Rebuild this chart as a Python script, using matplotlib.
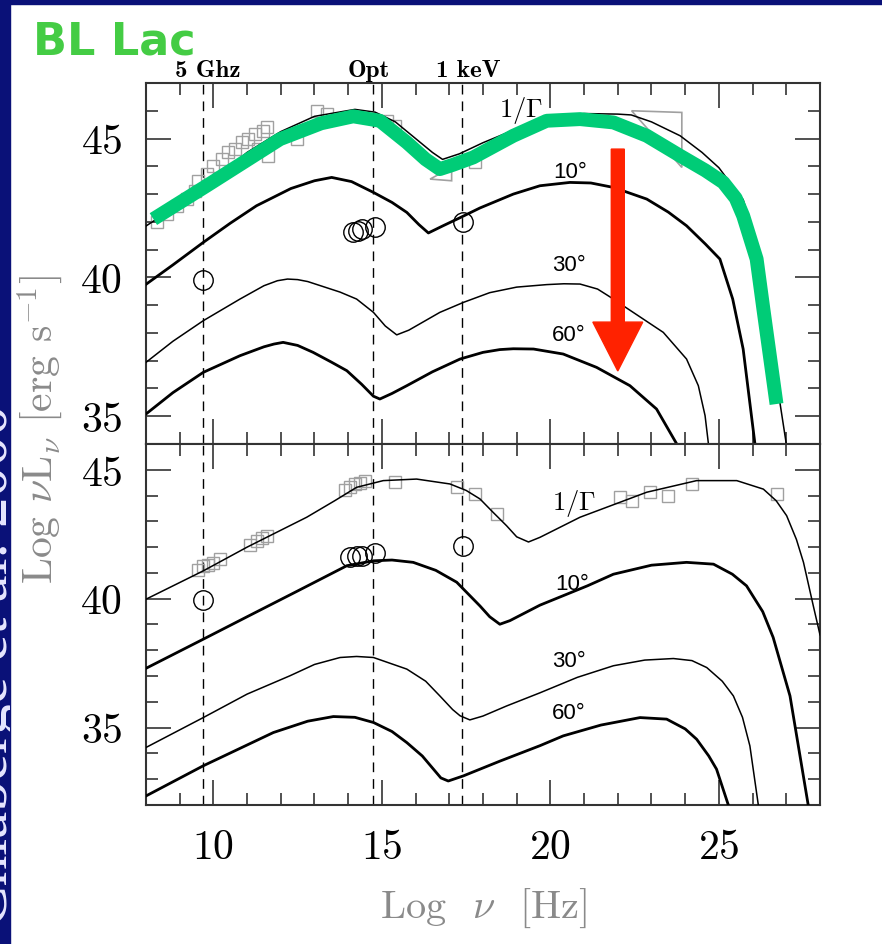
import matplotlib.pyplot as plt
from matplotlib.patches import Rectangle, Polygon
from matplotlib.ticker import MultipleLocator

plt.rcParams['font.family'] = 'serif'
plt.rcParams['font.serif'] = ['cmr10']
plt.rcParams['mathtext.fontset'] = 'cm'
plt.rcParams['axes.formatter.use_mathtext'] = True

# ---- upper panel: observed (high) state ----
up_gamma_x = [8.0, 9.7, 11.0, 12.0, 13.0, 14.2, 14.8, 15.4, 16.0, 16.5, 16.8, 17.3, 18.0, 19.0, 20.0, 21.0,
              22.0, 22.4, 23.0, 23.85, 24.5, 25.0, 25.4, 25.72, 26.0, 26.2, 26.31, 26.5, 26.81, 27.0]
up_gamma_y = [41.85, 43.2, 44.5, 45.25, 45.8, 46.05, 45.95, 45.6, 45.0, 44.5, 44.25, 44.45, 44.85, 45.35, 45.75, 45.9,
              45.88, 45.85, 45.6, 45.1, 44.5, 43.95, 43.3, 42.8, 41.7, 40.7, 39.3, 37.9, 35.5, 34.0]
up_10_x = [8.0, 8.8, 9.7, 10.5, 11.28, 12.3, 13.0, 13.51, 14.1, 14.75, 15.3, 15.74, 16.1, 16.38, 16.8, 17.32,
           17.91, 18.9, 19.69, 20.58, 21.2, 21.87, 22.86, 23.5, 24.04, 24.6, 25.03, 25.41, 25.72, 26.07]
up_10_y = [39.75, 40.45, 41.26, 41.95, 42.58, 43.2, 43.48, 43.6, 43.45, 43.06, 42.7, 42.34, 41.9, 41.6, 41.85, 42.15,
           42.5, 43.0, 43.3, 43.42, 43.4, 43.24, 42.82, 42.35, 41.86, 41.2, 40.66, 39.22, 37.42, 34.0]
up_30_x = [8.0, 8.8, 9.7, 10.79, 11.5, 11.9, 12.2, 12.5, 12.8, 13.76, 14.25, 14.75, 15.1, 15.44, 15.8, 16.72, 17.42,
           18.2, 19.0, 19.89, 20.4, 20.88, 21.4, 21.87, 22.16, 23.35, 24.04, 24.39, 24.59, 24.69]
up_30_y = [36.94, 37.7, 38.44, 39.22, 39.7, 39.88, 39.94, 39.92, 39.85, 39.47, 39.22, 38.74, 38.25, 37.93, 38.1, 38.74,
           39.1, 39.45, 39.65, 39.74, 39.77, 39.76, 39.58, 39.22, 38.98, 38.02, 37.06, 36.1, 35.02, 34.0]
up_60_x = [8.0, 8.8, 9.7, 10.79, 11.5, 11.8, 12.07, 12.5, 12.96, 13.5, 13.96, 14.4, 14.75, 14.94, 15.3, 15.74, 16.5,
           17.32, 18.0, 18.5, 18.9, 19.5, 20.38, 21.37, 22.36, 23.15, 23.75]
up_60_y = [35.08, 35.85, 36.58, 37.18, 37.5, 37.6, 37.66, 37.55, 37.3, 36.95, 36.64, 36.15, 35.72, 35.62, 35.82, 36.1,
           36.6, 37.06, 37.3, 37.4, 37.43, 37.42, 37.24, 36.76, 36.1, 35.26, 34.0]

up_sq_x = [8.32, 8.61, 8.91, 9.21, 9.45, 9.55, 9.80, 10.0, 10.25, 10.44, 10.64, 10.84, 11.04, 11.23, 11.48, 11.58,
           11.33, 11.63, 12.47, 13.07, 13.36, 15.14, 15.39, 17.76]
up_sq_y = [41.98, 42.28, 42.58, 42.82, 43.12, 43.48, 43.72, 44.02, 44.26, 44.5, 44.62, 44.86, 44.98, 45.16, 45.28, 45.40,
           44.62, 44.38, 44.98, 46.0, 45.88, 45.64, 45.46, 44.14]
up_circ_x = [9.7, 14.15, 14.30, 14.40, 14.80, 17.40]
up_circ_y = [39.9, 41.62, 41.68, 41.74, 41.80, 41.98]
bowtie_x = [22.41, 23.90, 23.90]
bowtie_y = [46.0, 45.94, 43.96]
xtri_x = [16.43, 17.07, 17.07]
xtri_y = [43.54, 43.96, 43.48]

# hand-drawn highlight on the upper panel
green_x = [8.22, 9.80, 11.98, 13.2, 14.15, 14.94, 15.74, 16.3, 16.72, 17.1, 17.71, 18.90, 19.89, 20.88, 21.87, 22.86,
           23.85, 24.6, 25.13, 25.5, 25.72, 26.12, 26.32, 26.71]
green_y = [42.10, 43.30, 44.98, 45.55, 45.80, 45.64, 44.86, 44.25, 43.90, 44.05, 44.32, 45.10, 45.64, 45.70, 45.58, 45.10,
           44.38, 43.85, 43.42, 42.85, 42.22, 40.66, 38.86, 35.44]

# ---- lower panel: fitted state ----
lo_gamma_x = [8.0, 9.7, 11.0, 12.77, 13.6, 14.25, 15.04, 16.03, 17.02, 17.5, 17.91, 18.3, 18.7, 19.0, 19.35, 19.69,
              20.88, 22.86, 24.34, 25.53, 26.32, 26.7, 27.01, 27.3, 27.51, 27.8, 28.0]
lo_gamma_y = [39.98, 41.08, 42.0, 43.16, 43.8, 44.32, 44.58, 44.64, 44.45, 44.2, 43.87, 43.35, 42.83, 42.4, 42.2, 42.38,
              43.16, 44.13, 44.58, 44.58, 44.25, 43.8, 43.22, 42.3, 41.41, 39.73, 38.6]
lo_10_x = [8.0, 9.7, 11.0, 12.5, 13.96, 14.75, 15.3, 15.93, 16.6, 17.22, 17.91, 18.2, 18.5, 18.8, 19.69, 21.1,
           21.87, 23.0, 24.04, 24.84, 25.4, 25.82, 26.3, 26.61, 27.11, 27.65]
lo_10_y = [37.3, 38.43, 39.3, 40.3, 41.28, 41.47, 41.5, 41.41, 41.1, 40.64, 39.72, 39.3, 39.01, 39.15, 39.75, 40.5,
           40.95, 41.3, 41.41, 41.34, 40.95, 40.5, 39.5, 38.5, 36.23, 32.0]
lo_30_x = [8.0, 9.7, 11.0, 12.27, 13.0, 13.76, 14.25, 14.75, 15.74, 16.3, 16.72, 17.1, 17.32, 17.61, 18.0, 18.7, 19.69,
           20.8, 21.87, 22.8, 23.65, 24.2, 24.64, 25.1, 25.43, 25.7, 25.92, 26.17]
lo_30_y = [34.23, 35.39, 36.3, 37.01, 37.45, 37.72, 37.76, 37.72, 37.27, 36.8, 36.23, 35.7, 35.46, 35.3, 35.45, 35.84,
           36.35, 36.95, 37.4, 37.62, 37.68, 37.6, 37.33, 36.8, 36.23, 35.4, 34.29, 32.0]
lo_60_x = [8.0, 9.7, 11.78, 12.8, 13.56, 14.2, 14.75, 15.3, 15.74, 16.2, 16.53, 16.75, 16.97, 17.42, 18.5, 19.69,
           20.38, 21.5, 22.66, 23.45, 24.0, 24.34, 24.7, 24.93, 25.28]
lo_60_y = [32.35, 33.52, 34.81, 35.25, 35.43, 35.4, 35.2, 34.85, 34.42, 33.9, 33.39, 33.05, 32.93, 33.13, 33.7, 34.3,
           34.68, 35.1, 35.39, 35.33, 34.95, 34.55, 33.9, 33.39, 32.0]

lo_sq_x = [9.55, 9.7, 9.85, 10.0, 10.2, 11.1, 11.3, 11.45, 11.6, 13.9, 14.05, 14.2, 14.35, 14.5, 15.39, 17.22, 17.76,
           18.41, 22.07, 22.41, 22.96, 23.50, 24.19, 26.71]
lo_sq_y = [41.1, 41.25, 41.3, 41.4, 41.54, 42.1, 42.25, 42.35, 42.45, 44.2, 44.35, 44.45, 44.5, 44.55, 44.51, 44.32, 44.06,
           43.28, 43.93, 43.80, 44.13, 43.99, 44.45, 44.06]
lo_circ_x = [9.70, 14.05, 14.25, 14.40, 14.80, 17.40]
lo_circ_y = [39.95, 41.60, 41.66, 41.66, 41.79, 42.03]

band_x = [9.7, 14.75, 17.38]
band_labels = ['5 Ghz', 'Opt', '1 keV']
band_label_x = [9.84, 14.62, 17.55]

angle_labels = [r'$1/\Gamma$', '10°', '30°', '60°']
up_label_x = [19.13, 20.58, 20.55, 20.55]
up_label_y = [46.06, 43.83, 40.48, 37.96]
lo_label_x = [20.70, 20.64, 20.55, 20.55]
lo_label_y = [43.75, 40.58, 37.61, 35.6]

navy = '#0a1178'
grey = '#a0a0a0'

fig = plt.figure(figsize=(8.82, 9.45), dpi=100)
fig.patches.append(Rectangle((0, 0), 10 / 882, 1, transform=fig.transFigure, color=navy, zorder=0))
fig.patches.append(Rectangle((0, 1 - 5 / 945), 1, 5 / 945, transform=fig.transFigure, color=navy, zorder=0))

ax1 = fig.add_axes([0.1655, 0.5291, 0.7642, 0.3820])
ax2 = fig.add_axes([0.1655, 0.1471, 0.7642, 0.3820])


def style(ax, ylo, yhi):
    ax.set_xlim(8, 28)
    ax.set_ylim(ylo, yhi)
    ax.xaxis.set_major_locator(MultipleLocator(5))
    ax.xaxis.set_minor_locator(MultipleLocator(1))
    ax.yaxis.set_major_locator(MultipleLocator(5))
    ax.yaxis.set_minor_locator(MultipleLocator(1))
    ax.tick_params(which='both', direction='in', top=True, right=True, width=1.1, color='#222222',
                   labelsize=30, pad=17)
    ax.tick_params(which='major', length=18)
    ax.tick_params(which='minor', length=8.5)
    for s in ax.spines.values():
        s.set_linewidth(1.5)
        s.set_color('#333333')
    for bx in band_x:
        ax.axvline(bx, color='k', lw=1.0, ls=(0, (7, 5)), zorder=1)


style(ax1, 34, 47)
style(ax2, 32, 46)
ax1.tick_params(labelbottom=False)
ax1.set_yticks([35, 40, 45])
ax2.set_yticks([35, 40, 45])

# upper panel
ax1.plot(up_sq_x, up_sq_y, 's', mfc='none', mec=grey, ms=9, mew=1, zorder=2)
ax1.add_patch(Polygon(list(zip(bowtie_x, bowtie_y)), closed=True, fill=False, ec=grey, lw=1.2, zorder=2))
ax1.add_patch(Polygon(list(zip(xtri_x, xtri_y)), closed=True, fill=False, ec=grey, lw=1.2, zorder=2))
ax1.plot(up_gamma_x, up_gamma_y, color='k', lw=1.1, zorder=3)
ax1.plot(up_10_x, up_10_y, color='k', lw=2.0, zorder=3)
ax1.plot(up_30_x, up_30_y, color='k', lw=1.1, zorder=3)
ax1.plot(up_60_x, up_60_y, color='k', lw=2.0, zorder=3)
ax1.plot(up_circ_x, up_circ_y, 'o', mfc='none', mec='k', ms=14, mew=1, zorder=3)
ax1.plot(green_x, green_y, color='#00cc77', lw=10, solid_capstyle='butt', solid_joinstyle='round', zorder=5)
ax1.arrow(22.0, 44.62, 0, 36.63 - 44.62, width=0.386, head_width=1.48, head_length=1.76,
          length_includes_head=True, color='#ff2200', zorder=6)

# lower panel
ax2.plot(lo_sq_x, lo_sq_y, 's', mfc='none', mec=grey, ms=9, mew=1, zorder=2)
ax2.plot(lo_gamma_x, lo_gamma_y, color='k', lw=1.1, zorder=3)
ax2.plot(lo_10_x, lo_10_y, color='k', lw=2.0, zorder=3)
ax2.plot(lo_30_x, lo_30_y, color='k', lw=1.1, zorder=3)
ax2.plot(lo_60_x, lo_60_y, color='k', lw=2.0, zorder=3)
ax2.plot(lo_circ_x, lo_circ_y, 'o', mfc='none', mec='k', ms=14, mew=1, zorder=3)

for ax, lx, ly in [(ax1, up_label_x, up_label_y), (ax2, lo_label_x, lo_label_y)]:
    for lab, x, y in zip(angle_labels, lx, ly):
        if lab.startswith('$'):
            ax.text(x, y, lab, fontsize=19, ha='center', va='center', zorder=4)
        else:
            ax.text(x, y, lab, fontsize=16, ha='center', va='center', family='Liberation Sans', zorder=4)

for lab, x in zip(band_labels, band_label_x):
    ax1.text(x, 47.06, lab, fontsize=18, ha='center', va='bottom', family='cmb10')

fig.text(40 / 882, 1 - 430 / 945, r'Log $\nu$L$_\nu$ [erg s$^{-1}$]', rotation=90, ha='center', va='center',
         color='#8a8a8a', fontsize=30)
fig.text(483 / 882, 1 - 908 / 945, r'Log  $\nu$  [Hz]', ha='center', va='center', color='#8a8a8a', fontsize=29)

fig.text(33 / 882, 1 - 55 / 945, 'BL Lac', color='#44cc44', fontsize=32, fontweight='bold',
         family='DejaVu Sans', va='baseline', ha='left')

strip = fig.text(7 / 882, 1 - 665 / 945, 'Chiaberge et al. 2000', rotation=90, rotation_mode='anchor',
                 ha='center', va='baseline', fontsize=44, family='Liberation Serif', color='#e6e6ff')
strip.set_clip_path(fig.patches[0])

fig.savefig('out.png', dpi=100)
